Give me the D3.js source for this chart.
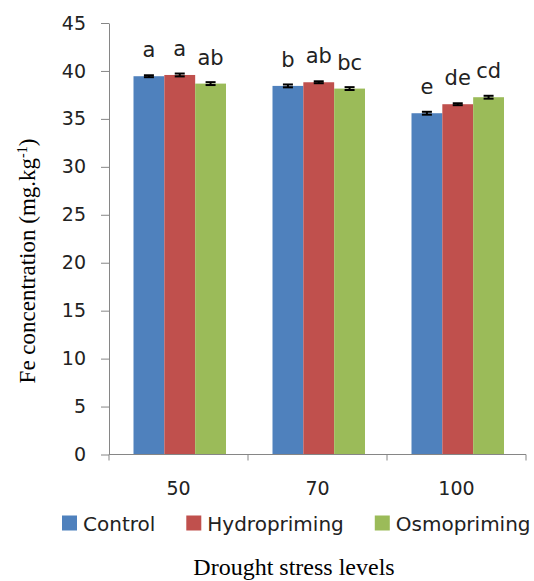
<!DOCTYPE html>
<html>
<head>
<meta charset="utf-8">
<script src="https://cdn.jsdelivr.net/npm/d3@7"></script>
<style>
  body { margin: 0; background: #fff; }
  svg { display: block; }
</style>
</head>
<body>
<svg id="chart"></svg>
<script>
(function() {

  // data
  const levels = ['50', '70', '100'];
  const series = ['Control', 'Hydropriming', 'Osmopriming'];
  const colors = ['#4F81BD', '#C0504D', '#9BBB59'];
  const control = [39.45, 38.44, 35.59];
  const hydro = [39.58, 38.82, 36.53];
  const osmo = [38.68, 38.16, 37.26];
  const controlErr = [0.1, 0.15, 0.15];
  const hydroErr = [0.15, 0.1, 0.1];
  const osmoErr = [0.15, 0.15, 0.15];
  const controlLetters = ['a', 'b', 'e'];
  const hydroLetters = ['a', 'ab', 'de'];
  const osmoLetters = ['ab', 'bc', 'cd'];
  const yTicks = [0, 5, 10, 15, 20, 25, 30, 35, 40, 45];

  const values = [control, hydro, osmo];
  const errs = [controlErr, hydroErr, osmoErr];
  const letters = [controlLetters, hydroLetters, osmoLetters];

  const rows = [];
  levels.forEach(function(lv, i) {
    series.forEach(function(s, j) {
      rows.push({ level: lv, series: s, color: colors[j], value: values[j][i], err: errs[j][i], letter: letters[j][i] });
    });
  });

  const width = 534;
  const height = 581;
  const margin = { left: 109, right: 8, top: 23, bottom: 126 };
  const sans = 'DejaVu Sans, sans-serif';
  const serif = 'Liberation Serif, Times New Roman, serif';
  const axisColor = '#868686';

  const svg = d3.select('#chart')
    .attr('width', width)
    .attr('height', height);

  const x = d3.scaleBand()
    .domain(levels)
    .range([margin.left, width - margin.right])
    .padding(0);

  const xInner = d3.scaleBand()
    .domain(series)
    .range([24.5, x.bandwidth() - 22])
    .padding(0);

  const y = d3.scaleLinear()
    .domain([0, 45])
    .range([height - margin.bottom - 0.5, margin.top]);

  // y axis
  const yAxis = svg.append('g')
    .attr('transform', 'translate(' + margin.left + ',0)')
    .call(d3.axisLeft(y).tickValues(yTicks).tickSize(8).tickPadding(15).tickSizeOuter(0));
  yAxis.selectAll('path, line').attr('stroke', axisColor);
  yAxis.selectAll('text')
    .style('font-family', sans)
    .style('font-size', '19px')
    .attr('fill', '#222');

  // bars
  const groups = svg.append('g').selectAll('g')
    .data(rows)
    .enter()
    .append('g')
    .attr('transform', function(d) {
      return 'translate(' + (x(d.level) + xInner(d.series)) + ',0)';
    });

  groups.append('rect')
    .attr('x', 0)
    .attr('y', function(d) { return y(d.value); })
    .attr('width', xInner.bandwidth())
    .attr('height', function(d) { return y(0) - y(d.value); })
    .attr('fill', function(d) { return d.color; });

  // error bars
  const cx = xInner.bandwidth() / 2;
  groups.append('line')
    .attr('x1', cx).attr('x2', cx)
    .attr('y1', function(d) { return y(d.value - d.err); })
    .attr('y2', function(d) { return y(d.value + d.err); })
    .attr('stroke', '#000').attr('stroke-width', 2);
  groups.selectAll('line.cap')
    .data(function(d) { return [d.value - d.err, d.value + d.err]; })
    .enter()
    .append('line')
    .attr('class', 'cap')
    .attr('x1', cx - 5).attr('x2', cx + 5)
    .attr('y1', function(v) { return y(v); })
    .attr('y2', function(v) { return y(v); })
    .attr('stroke', '#000').attr('stroke-width', 2);

  // significance letters
  groups.append('text')
    .attr('x', cx)
    .attr('y', function(d) { return y(d.value) - 19; })
    .attr('text-anchor', 'middle')
    .style('font-family', sans)
    .style('font-size', '21px')
    .attr('fill', '#222')
    .text(function(d) { return d.letter; });

  // x axis
  const base = y(0);
  const xAxis = svg.append('g');
  xAxis.append('line')
    .attr('x1', x.range()[0]).attr('x2', x.range()[1])
    .attr('y1', base).attr('y2', base)
    .attr('stroke', axisColor);
  xAxis.selectAll('line.tick')
    .data(d3.range(levels.length + 1))
    .enter()
    .append('line')
    .attr('class', 'tick')
    .attr('x1', function(i) { return x.range()[0] + i * x.step(); })
    .attr('x2', function(i) { return x.range()[0] + i * x.step(); })
    .attr('y1', base).attr('y2', base + 6)
    .attr('stroke', axisColor);
  xAxis.selectAll('text')
    .data(levels)
    .enter()
    .append('text')
    .attr('x', function(d) { return x(d) + x.bandwidth() / 2; })
    .attr('y', base + 40)
    .attr('text-anchor', 'middle')
    .style('font-family', sans)
    .style('font-size', '19px')
    .attr('fill', '#222')
    .text(function(d) { return d; });

  // legend
  const legend = svg.append('g').attr('transform', 'translate(62,523)');
  let lx = 0;
  series.forEach(function(s, j) {
    const item = legend.append('g').attr('transform', 'translate(' + lx + ',0)');
    item.append('rect')
      .attr('x', 0).attr('y', -7.5)
      .attr('width', 15).attr('height', 15)
      .attr('fill', colors[j]);
    const t = item.append('text')
      .attr('x', 21).attr('y', 7.5)
      .style('font-family', sans)
      .style('font-size', '20px')
      .attr('fill', '#222')
      .text(s);
    lx += 21 + t.node().getComputedTextLength() + 31;
  });

  // axis titles
  svg.append('text')
    .attr('x', 294)
    .attr('y', 575)
    .attr('text-anchor', 'middle')
    .style('font-family', serif)
    .style('font-size', '24px')
    .attr('fill', '#000')
    .text('Drought stress levels');

  const yTitle = svg.append('text')
    .attr('transform', 'translate(35,261) rotate(-90)')
    .attr('text-anchor', 'middle')
    .style('font-family', serif)
    .style('font-size', '23px')
    .attr('fill', '#000');
  yTitle.append('tspan').text('Fe concentration (mg.kg');
  yTitle.append('tspan').attr('dy', -8).style('font-size', '14px').text('-1');
  yTitle.append('tspan').attr('dy', 8).text(')');

})();
</script>
</body>
</html>
